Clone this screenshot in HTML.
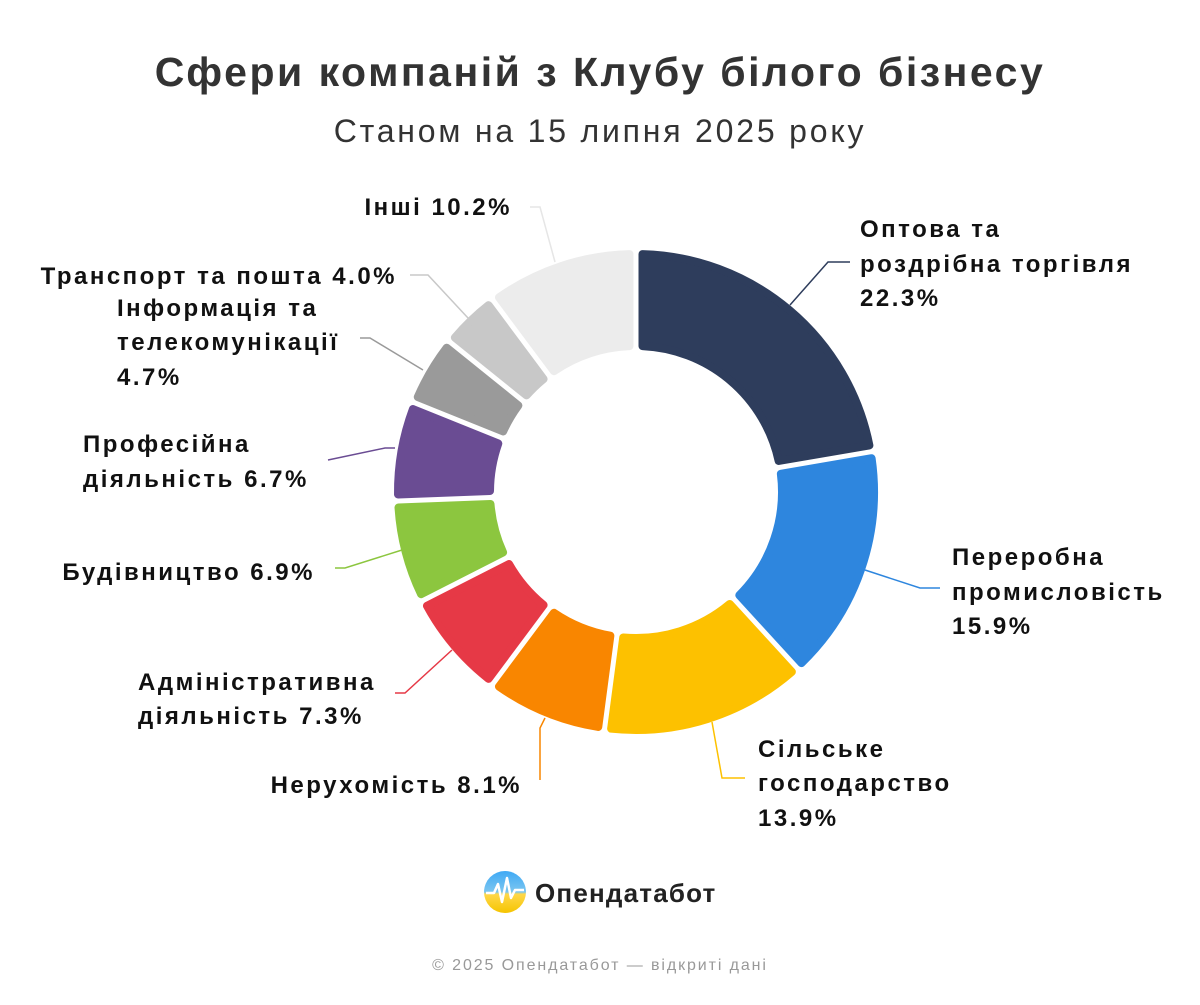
<!DOCTYPE html>
<html><head><meta charset="utf-8">
<style>
html,body{margin:0;padding:0;background:#fff;}
body{width:1200px;height:1000px;overflow:hidden;font-family:"Liberation Sans","DejaVu Sans",sans-serif;}
</style></head>
<body>
<svg id="s" width="1200" height="1000" viewBox="0 0 1200 1000" xmlns="http://www.w3.org/2000/svg" font-family="Liberation Sans, DejaVu Sans, sans-serif">
<defs>
<linearGradient id="lg" x1="0" y1="0" x2="0" y2="1">
<stop offset="0" stop-color="#3fa9f5"/><stop offset="0.5" stop-color="#7cc6f0"/><stop offset="0.55" stop-color="#ffd84a"/><stop offset="1" stop-color="#f5c400"/>
</linearGradient>
</defs>
<text x="600" y="86" text-anchor="middle" font-size="41" font-weight="bold" fill="#333" letter-spacing="2.5">Сфери компаній з Клубу білого бізнесу</text>
<text x="600" y="142" text-anchor="middle" font-size="32" fill="#333" letter-spacing="2.8">Станом на 15 липня 2025 року</text>
<g id="slices"></g>
<g fill="none" stroke-width="1.5">
<polyline points="790,305 828,262 850,262" stroke="#2e3d5c"/>
<polyline points="865,570 920,588 940,588" stroke="#2e86de"/>
<polyline points="712,722 722,778 745,778" stroke="#fdc100"/>
<polyline points="545,718 540,728 540,780" stroke="#f98600"/>
<polyline points="452,650 405,693 395,693" stroke="#e63946"/>
<polyline points="402,550 345,568 335,568" stroke="#8cc63f"/>
<polyline points="395,448 385,448 328,460" stroke="#6a4c93"/>
<polyline points="423,370 370,338 360,338" stroke="#9a9a9a"/>
<polyline points="468,318 428,275 410,275" stroke="#c8c8c8"/>
<polyline points="555,262 540,207 530,207" stroke="#e6e6e6"/>
</g>
<g font-size="24" font-weight="bold" fill="#111" letter-spacing="2.5">
<text x="860" y="237">Оптова та</text><text x="860" y="272">роздрібна торгівля</text><text x="860" y="306">22.3%</text>
<text x="952" y="565">Переробна</text><text x="952" y="600">промисловість</text><text x="952" y="634">15.9%</text>
<text x="758" y="757">Сільське</text><text x="758" y="791">господарство</text><text x="758" y="826">13.9%</text>
<text x="522" y="793" text-anchor="end">Нерухомість 8.1%</text>
<text x="138" y="690">Адміністративна</text><text x="138" y="724">діяльність 7.3%</text>
<text x="315" y="580" text-anchor="end">Будівництво 6.9%</text>
<text x="83" y="452">Професійна</text><text x="83" y="487">діяльність 6.7%</text>
<text x="117" y="316">Інформація та</text><text x="117" y="350">телекомунікації</text><text x="117" y="385">4.7%</text>
<text x="397" y="284" text-anchor="end">Транспорт та пошта 4.0%</text>
<text x="512" y="215" text-anchor="end">Інші 10.2%</text>
</g>
<circle cx="505" cy="892" r="21" fill="url(#lg)"/>
<polyline points="486,893 494,893 498,884 502,902 507,878 511,898 515,890 524,890" fill="none" stroke="#fff" stroke-width="2.5" stroke-linejoin="round"/>
<text x="535" y="902" font-size="26" font-weight="bold" fill="#222" letter-spacing="1.2">Опендатабот</text>
<text x="600" y="970" text-anchor="middle" font-size="16" fill="#999" letter-spacing="1.9">© 2025 Опендатабот — відкриті дані</text>
</svg>
<script>
(function(){
var cx=636,cy=492,R=238,r=146,off=6.5;
var d=[[22.3,"#2e3d5c"],[15.9,"#2e86de"],[13.9,"#fdc100"],[8.1,"#f98600"],[7.3,"#e63946"],[6.9,"#8cc63f"],[6.7,"#6a4c93"],[4.7,"#9a9a9a"],[4.0,"#c8c8c8"],[10.2,"#ececec"]];
var g=document.getElementById("slices"),a=0,ns="http://www.w3.org/2000/svg";
function pt(rad,ang){return [cx+rad*Math.sin(ang),cy-rad*Math.cos(ang)];}
d.forEach(function(s){
 var a0=a/100*2*Math.PI,a1=(a+s[0])/100*2*Math.PI;a+=s[0];
 var oR=Math.asin(off/R),oi=Math.asin(off/r);
 var p1=pt(R,a0+oR),p2=pt(R,a1-oR),p3=pt(r,a1-oi),p4=pt(r,a0+oi);
 var lg=(a1-a0-2*oR)>Math.PI?1:0;
 var p=document.createElementNS(ns,"path");
 p.setAttribute("d","M"+p1+" A"+R+","+R+" 0 "+lg+" 1 "+p2+" L"+p3+" A"+r+","+r+" 0 "+lg+" 0 "+p4+" Z");
 p.setAttribute("fill",s[1]);p.setAttribute("stroke",s[1]);p.setAttribute("stroke-width","8");p.setAttribute("stroke-linejoin","round");
 g.appendChild(p);
});
})();
</script>
</body></html>
